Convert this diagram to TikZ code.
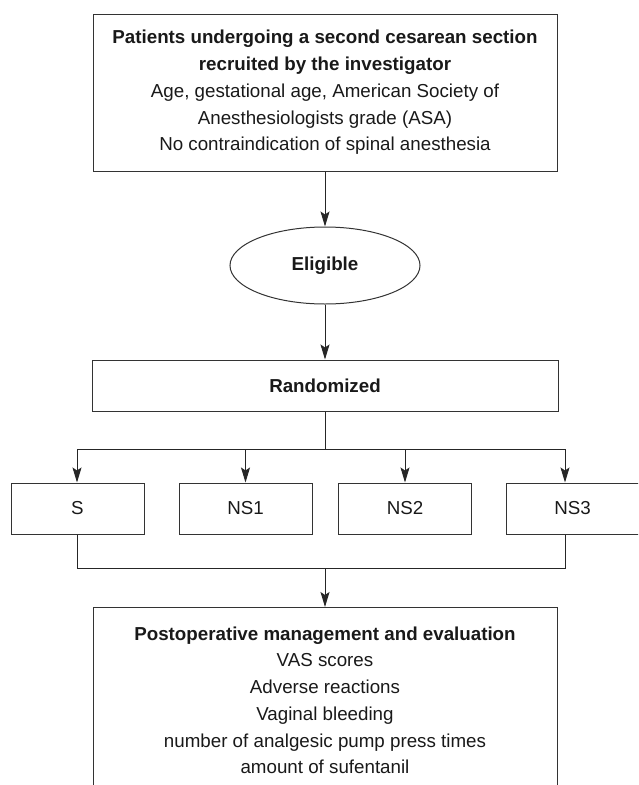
\documentclass[tikz,border=0pt]{standalone}
\usepackage{fontspec}
\setmainfont{Liberation Sans}
\usetikzlibrary{shapes.geometric,arrows.meta}
\begin{document}
\begin{tikzpicture}[x=1pt,y=-1pt,
  every node/.style={font=\fontsize{18.75}{26.75}\selectfont},
  box/.style={draw=black!80, line width=1pt, align=center, inner sep=0pt, text=black!90},
  arr/.style={draw=black!85, line width=1pt, -{Stealth[length=15pt,width=9pt,inset=3pt]}},
  ln/.style={draw=black!85, line width=1pt}]
\useasboundingbox (0,0) rectangle (638,785);
\clip (0,0) rectangle (638,785);
\node[box, minimum width=464pt, minimum height=157pt] (recruit) at (325,92.5)
  {\textbf{Patients undergoing a second cesarean section}\\
   \textbf{recruited by the investigator}\\
   Age, gestational age, American Society of\\
   Anesthesiologists grade (ASA)\\
   No contraindication of spinal anesthesia};
\node[box, ellipse, minimum width=190pt, minimum height=77pt] (elig) at (325,265.5) {\textbf{Eligible}};
\node[box, minimum width=466pt, minimum height=51pt] (rand) at (325,385.5) {\textbf{Randomized}};
\node[box, minimum width=133pt, minimum height=51pt] (s) at (77.5,508.5) {S};
\node[box, minimum width=133pt, minimum height=51pt] (ns1) at (245.5,508.5) {NS1};
\node[box, minimum width=133pt, minimum height=51pt] (ns2) at (405,508.5) {NS2};
\node[box, minimum width=133pt, minimum height=51pt] (ns3) at (572.5,508.5) {NS3};
\node[box, anchor=north, minimum width=464pt, inner ysep=19pt] (post) at (325,607)
  {\textbf{Postoperative management and evaluation}\\
   VAS scores\\
   Adverse reactions\\
   Vaginal bleeding\\
   number of analgesic pump press times\\
   amount of sufentanil};
\draw[arr] (recruit.south) -- (elig.north);
\draw[arr] (elig.south) -- (rand.north);
\coordinate (split) at (325,449);
\coordinate (bl) at (77,449);
\coordinate (br) at (565,449);
\draw[ln] (rand.south) -- (split);
\draw[ln] (bl) -- (br);
\draw[arr] (bl) -- (bl |- s.north);
\draw[arr] (ns1.north |- split) -- (ns1.north);
\draw[arr] (ns2.north |- split) -- (ns2.north);
\draw[arr] (br) -- (br |- ns3.north);
\coordinate (ml) at (77,568);
\coordinate (mr) at (565,568);
\coordinate (merge) at (325,568);
\draw[ln] (ml |- s.south) -- (ml) -- (mr) -- (mr |- ns3.south);
\draw[arr] (merge) -- (post.north);
\end{tikzpicture}
\end{document}
